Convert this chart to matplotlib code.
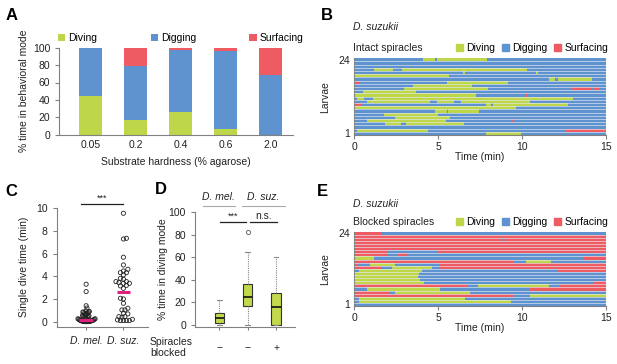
import numpy as np
import matplotlib.pyplot as plt

plt.rcParams['font.family'] = ['Liberation Sans', 'DejaVu Sans']
plt.rcParams['font.size'] = 7.5

W, H = 617, 364
DIVE = '#bed64a'
DIG = '#5f93cf'
SURF = '#ee5b62'
AXC = '#808080'
TXT = '#222222'
STATE_COLORS = {'V': DIVE, 'G': DIG, 'S': SURF}

# --- A: time budget vs substrate hardness
hardness = ['0.05', '0.2', '0.4', '0.6', '2.0']
diving_pct = [44.0, 17.0, 26.0, 6.5, 0.0]
digging_pct = [55.6, 62.5, 71.5, 89.8, 68.3]
surfacing_pct = [0.4, 20.5, 2.5, 3.7, 31.7]

# --- B: intact spiracles, rows from larva 24 (top) to larva 1; digging everywhere else
intact_events = [
    [('V', 4.1, 4.83), ('V', 4.95, 7.93)],
    [],
    [],
    [('V', 1.19, 2.32), ('V', 2.86, 10.27)],
    [('V', 6.5, 6.62), ('V', 10.83, 10.97)],
    [('V', 0.0, 5.66)],
    [('V', 11.6, 11.96), ('V', 12.14, 14.15)],
    [('S', 0.0, 0.3), ('V', 5.5, 9.14)],
    [('V', 3.5, 7.03)],
    [('S', 0.0, 0.12), ('V', 2.96, 7.95), ('S', 12.9, 14.1), ('S', 14.25, 14.6)],
    [('V', 0.5, 3.7)],
    [('V', 0.0, 7.25), ('S', 10.2, 10.32)],
    [('V', 0.15, 0.6), ('V', 1.13, 13.05)],
    [('V', 0.73, 4.51), ('V', 4.9, 5.94), ('V', 6.36, 10.47)],
    [('S', 0.0, 0.45), ('V', 7.83, 8.17), ('V', 8.25, 12.75)],
    [('V', 0.0, 9.62)],
    [('V', 4.8, 5.5), ('V', 5.58, 7.41)],
    [('V', 1.77, 4.99)],
    [('V', 2.42, 5.72)],
    [('V', 0.77, 5.46), ('S', 9.38, 9.5)],
    [('V', 1.83, 2.76), ('V', 3.1, 6.54)],
    [('S', 0.0, 0.1)],
    [('V', 0.14, 4.41), ('S', 12.55, 15.0)],
    [('V', 7.83, 9.95)],
]

# --- E: blocked spiracles, (state, start) transitions, rows larva 24 -> 1
blocked_rows = [
    [('S', 0), ('G', 1.67)],
    [('S', 0)],
    [('S', 0), ('G', 8.72), ('S', 8.85)],
    [('S', 0)],
    [('S', 0)],
    [('S', 0)],
    [('S', 0), ('G', 1.93), ('S', 5.0)],
    [('S', 0), ('G', 2.0), ('S', 2.6), ('G', 3.2)],
    [('V', 0), ('G', 1.17), ('S', 13.7)],
    [('S', 0), ('G', 9.5), ('V', 10.25), ('G', 11.7)],
    [('S', 0), ('G', 0.14), ('V', 0.93), ('G', 2.43), ('S', 5.1)],
    [('S', 0), ('G', 1.65), ('V', 2.25), ('G', 4.63), ('S', 5.03)],
    [('G', 0), ('V', 0.26), ('G', 4.04), ('S', 12.1)],
    [('V', 0), ('G', 3.85)],
    [('V', 0), ('G', 3.8)],
    [('V', 0), ('G', 3.9)],
    [('V', 0), ('G', 4.13), ('S', 14.2)],
    [('S', 0), ('G', 6.8), ('V', 7.4), ('G', 11.6), ('S', 12.2)],
    [('G', 0), ('V', 0.78), ('G', 5.13), ('S', 10.45)],
    [('S', 0), ('G', 2.05), ('V', 2.45), ('G', 6.92)],
    [('S', 0), ('G', 9.45), ('V', 10.45)],
    [('G', 0), ('V', 0.26), ('G', 6.62)],
    [('G', 0), ('V', 0.3), ('G', 9.35)],
    [('G', 0)],
]

# --- C: single dive durations (min)
species = ['D. mel.', 'D. suz.']
mel_dive = [3.3, 2.65, 1.4, 1.2, 0.95, 0.9, 0.85, 0.85, 0.8, 0.75, 0.7, 0.7, 0.65,
            0.6, 0.55, 0.5, 0.5, 0.45, 0.4, 0.4, 0.35, 0.3, 0.3, 0.25, 0.25, 0.2,
            0.2, 0.15, 0.15, 0.1, 0.1, 0.1, 0.08, 0.05, 0.05, 0.05, 0.03, 0.02,
            0.02, 0.0, 0.0, 0.0, 0.0, 0.0, 0.0]
suz_dive = [9.56, 7.35, 7.29, 5.68, 5.0, 4.62, 4.47, 4.32, 4.32, 4.12, 3.82, 3.74,
            3.53, 3.53, 3.44, 3.38, 3.38, 3.2, 3.15, 2.94, 2.06, 2.0, 1.62, 1.18,
            1.03, 1.03, 0.74, 0.68, 0.44, 0.44, 0.38, 0.2, 0.15, 0.09, 0.09, 0.09,
            0.09]
dive_center = [0.15, 2.6]

# --- D: % time diving (box stats)
box_ticks = ['\u2212', '\u2212', '+']
box_med = [6.2, 24.9, 15.7]
box_q1 = [1.8, 16.6, 0.0]
box_q3 = [10.7, 35.9, 28.5]
box_lo = [0.0, 0.0, 0.0]
box_hi = [22.0, 64.4, 60.5]
box_fliers = [[], [82.5], []]

fig = plt.figure(figsize=(W / 100, H / 100), dpi=100)


def px_axes(left, top, right, bottom):
    return fig.add_axes([left / W, 1 - bottom / H, (right - left) / W, (bottom - top) / H])


def ftext(x, y, s, **kw):
    kw.setdefault('color', TXT)
    fig.text(x / W, 1 - y / H, s, **kw)


def style_axes(ax):
    for side in ('top', 'right'):
        ax.spines[side].set_visible(False)
    for side in ('left', 'bottom'):
        ax.spines[side].set_color(AXC)
        ax.spines[side].set_linewidth(0.8)
    ax.tick_params(colors=AXC, labelcolor=TXT, length=3, width=0.8, labelsize=7.5)


def swarm_offsets(values, y_px, r, half_width):
    # simple beeswarm in pixel space, then squeezed into +-half_width (data units)
    vals = np.asarray(values, dtype=float)
    placed = []
    offs = np.zeros(len(vals))
    for n, i in enumerate(np.argsort(vals)):
        y = vals[i] * y_px
        sign = 1 if n % 2 else -1
        k = 0
        while True:
            cands = [0.0] if k == 0 else [sign * k * r * 0.5, -sign * k * r * 0.5]
            hit = None
            for cand in cands:
                if all((cand - px) ** 2 + (y - py) ** 2 >= r * r for px, py in placed):
                    hit = cand
                    break
            if hit is not None:
                placed.append((hit, y))
                offs[i] = hit
                break
            k += 1
    span = np.abs(offs).max()
    if span > 0:
        offs = offs / span * half_width
    return offs


# ---------------- panel A
ax = px_axes(59.3, 47.7, 293, 134.7)
x = np.arange(len(hardness))
ax.bar(x, diving_pct, width=0.52, color=DIVE, label='Diving')
ax.bar(x, digging_pct, width=0.52, bottom=diving_pct, color=DIG, label='Digging')
ax.bar(x, surfacing_pct, width=0.52, bottom=np.add(diving_pct, digging_pct), color=SURF,
       label='Surfacing')
ax.set_xlim(-0.7, 4.5)
ax.set_ylim(0, 100)
ax.set_yticks(range(0, 101, 20))
ax.set_xticks(x, hardness)
style_axes(ax)
ax.tick_params(axis='x', length=0, pad=4)
ax.legend(loc='lower left', bbox_to_anchor=(-0.005, 1.05, 1.05, 0.1), mode='expand', ncol=3,
          frameon=False, handlelength=0.7, handleheight=0.7, handletextpad=0.3,
          borderpad=0, borderaxespad=0, fontsize=7.5)
ftext(176, 162, 'Substrate hardness (% agarose)', ha='center', va='center')
ftext(24, 91, '% time in behavioral mode', ha='center', va='center', rotation=90)


# ---------------- ethograms
def ethogram(ax, segments):
    n = len(segments)
    for i, row in enumerate(segments):
        yv = n - i
        for state, start, end in row:
            ax.barh(yv, end - start, left=start, height=1.0, color=STATE_COLORS[state],
                    linewidth=0)
    ax.hlines(np.arange(1.5, n, 1.0), 0, 15, color='#e8ecf2', lw=0.45, zorder=3)
    ax.set_xlim(0, 15)
    ax.set_ylim(0.5, n + 0.5)
    ax.set_xticks([0, 5, 10, 15])
    ax.set_yticks([1, n])
    style_axes(ax)
    ax.tick_params(axis='y', length=0, pad=3)
    ax.tick_params(axis='x', length=3, pad=2)


def leg(ax, y):
    handles = [plt.Rectangle((0, 0), 1, 1, color=c) for c in (DIVE, DIG, SURF)]
    ax.legend(handles, ['Diving', 'Digging', 'Surfacing'], loc='center right',
              bbox_to_anchor=(608 / W, 1 - y / H), bbox_transform=fig.transFigure, ncol=3,
              frameon=False, handlelength=0.7, handleheight=0.7, handletextpad=0.3,
              columnspacing=0.6, borderpad=0, borderaxespad=0, fontsize=7.5)


intact_segments = [[('G', 0.0, 15.0)] + row for row in intact_events]
ax = px_axes(354.3, 58.3, 606, 135)
ethogram(ax, intact_segments)
leg(ax, 48.3)
ftext(353, 26.7, 'D. suzukii', style='italic', va='center')
ftext(352.7, 48.3, 'Intact spiracles', va='center')
ftext(480, 157, 'Time (min)', ha='center', va='center')
ftext(325, 97, 'Larvae', ha='center', va='center', rotation=90)

blocked_segments = []
for row in blocked_rows:
    segs = []
    for j, (state, start) in enumerate(row):
        end = row[j + 1][1] if j + 1 < len(row) else 15.0
        segs.append((state, start, end))
    blocked_segments.append(segs)
ax = px_axes(354.3, 231.7, 606, 306)
ethogram(ax, blocked_segments)
leg(ax, 222.3)
ftext(353, 204, 'D. suzukii', style='italic', va='center')
ftext(352.7, 222.3, 'Blocked spiracles', va='center')
ftext(480, 328, 'Time (min)', ha='center', va='center')
ftext(325, 269, 'Larvae', ha='center', va='center', rotation=90)

# ---------------- panel C
ax = px_axes(56.7, 208.3, 148, 326.7)
style_axes(ax)
ax.set_xlim(-0.79, 1.66)
ax.set_ylim(-0.45, 10)
for k, vals in enumerate([mel_dive, suz_dive]):
    offs = swarm_offsets(vals, 11.34, 3.5, 0.24)
    ax.scatter(k + offs, vals, s=9, facecolors='none', edgecolors='#222222', linewidths=0.6,
               clip_on=False, zorder=3)
    ax.plot([k - 0.18, k + 0.18], [dive_center[k]] * 2, color='#e0207f', lw=2.2, zorder=4,
            solid_capstyle='butt')
ax.set_xticks([0, 1])
ax.set_xticklabels(species, style='italic')
ax.set_yticks(range(0, 11, 2))
ax.tick_params(axis='x', length=2, pad=5)
ax.plot([-0.13, 1.0], [10.4, 10.4], color=TXT, lw=0.9, clip_on=False)
ax.text(0.43, 10.45, '***', ha='center', va='bottom', fontsize=6.5, color=TXT)
ftext(24, 267, 'Single dive time (min)', ha='center', va='center', rotation=90)

# ---------------- panel D
ax = px_axes(195, 212.3, 295, 327.3)
style_axes(ax)
stats = [dict(med=m, q1=a, q3=b, whislo=lo, whishi=hi, fliers=f)
         for m, a, b, lo, hi, f in zip(box_med, box_q1, box_q3, box_lo, box_hi, box_fliers)]
ax.bxp(stats, positions=[1, 2, 3], widths=0.33, patch_artist=True,
       boxprops=dict(facecolor='#c3d84a', edgecolor='#333333', linewidth=0.8),
       medianprops=dict(color='#111111', linewidth=1.2),
       whiskerprops=dict(color='#888888', linewidth=0.8, linestyle=(0, (1, 1))),
       capprops=dict(color='#888888', linewidth=0.8),
       flierprops=dict(marker='o', markersize=3, markerfacecolor='none',
                       markeredgecolor='#555555', markeredgewidth=0.6))
ax.set_xlim(0.14, 3.67)
ax.set_ylim(-2.3, 100)
ax.set_yticks(range(0, 101, 20))
ax.set_xticks([1, 2, 3], box_ticks)
ax.tick_params(axis='x', length=2, pad=9)
ax.plot([1.02, 1.93], [91.7, 91.7], color=TXT, lw=0.9, clip_on=False)
ax.text(1.47, 92.5, '***', ha='center', va='bottom', fontsize=6.5, color=TXT)
ax.plot([2.08, 3.04], [91.7, 91.7], color=TXT, lw=0.9, clip_on=False)
ax.text(2.56, 92.5, 'n.s.', ha='center', va='bottom', fontsize=7.5, color=TXT)
for x0, x1, lab in [(202.7, 235, 'D. mel.'), (241.7, 285, 'D. suz.')]:
    fig.add_artist(plt.Line2D([x0 / W, x1 / W], [1 - 205.7 / H] * 2, color='#aaaaaa', lw=0.8))
    ftext((x0 + x1) / 2, 196.7, lab, style='italic', ha='center', va='center')
ftext(150, 341.7, 'Spiracles', va='center')
ftext(150, 352.7, 'blocked', va='center')
ftext(163, 269, '% time in diving mode', ha='center', va='center', rotation=90)

# ---------------- panel letters
for lab, xx, yy in [('A', 11.5, 15.5), ('B', 326.5, 15.5), ('C', 11.5, 191),
                    ('D', 161, 190), ('E', 322.5, 191)]:
    ftext(xx, yy, lab, fontsize=12, fontweight='bold', ha='center', va='center', color='black')

fig.savefig('out.png', dpi=100)
